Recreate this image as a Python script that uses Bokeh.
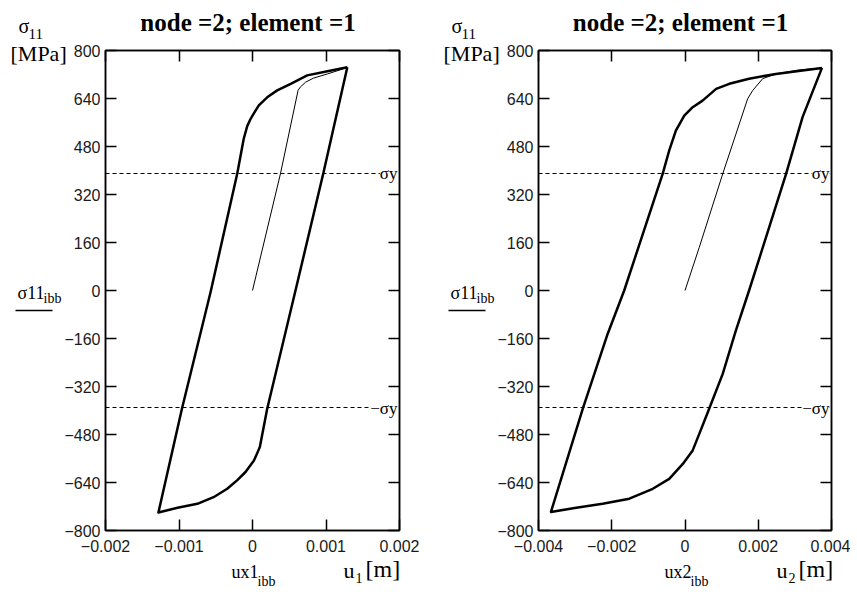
from bokeh.plotting import figure
from bokeh.layouts import row
from bokeh.models import Label, Span, LinearAxis, FixedTicker
from bokeh.core.properties import value
from bokeh.embed import file_html
from bokeh.resources import INLINE

# ---------------- data ----------------
title_text = "node =2; element =1"
sigma_y = 390

y_ticks = [-800, -640, -480, -320, -160, 0, 160, 320, 480, 640, 800]
y_tick_labels = ["\u2212800", "\u2212640", "\u2212480", "\u2212320", "\u2212160", "0",
                 "160", "320", "480", "640", "800"]

x1_ticks = [-0.002, -0.001, 0.0, 0.001, 0.002]
x1_tick_labels = ["\u22120.002", "\u22120.001", "0", "0.001", "0.002"]
x2_ticks = [-0.004, -0.002, 0.0, 0.002, 0.004]
x2_tick_labels = ["\u22120.004", "\u22120.002", "0", "0.002", "0.004"]

# node 2, element 1 : first loading (thin)
ux1_init = [0.0, 0.00038, 0.00062, 0.00065, 0.00072, 0.00083, 0.00102, 0.0012, 0.00129]
s1_init = [0, 389, 667, 678, 694, 708, 722, 736, 744]
# hysteresis loop (thick)
ux1_loop = [0.00129, 0.000962, 0.000585, 0.0002, 0.0001, 0.00002, -0.000095, -0.00021,
            -0.000344, -0.00053, -0.00075, -0.00102, -0.00128, -0.00096, -0.00057,
            -0.000208, -0.00012, -0.000072, -0.00003, 0.0, 0.000086, 0.0002, 0.000336,
            0.00052, 0.000744, 0.00102, 0.00129]
s1_loop = [744, 389, 0, -394, -522, -567, -605, -633, -661, -689, -711, -724, -740,
           -394, -5, 389, 505, 548, 570, 583, 617, 644, 667, 689, 717, 731, 744]

ux2_init = [0.0, 0.00039, 0.00103, 0.00171, 0.00185, 0.00212, 0.00248, 0.0031, 0.00374]
s2_init = [0, 144, 389, 639, 667, 706, 722, 735, 742]
ux2_loop = [0.00374, 0.00321, 0.00276, 0.0023, 0.00175, 0.00139, 0.00103, 0.00066,
            0.00039, 0.00021, -0.00006, -0.00043, -0.00088, -0.00152, -0.00225,
            -0.00297, -0.00366, -0.00279, -0.00211, -0.00166, -0.00061, -0.00043,
            -0.00025, -0.00002, 0.00021, 0.00048, 0.00085, 0.00121, 0.00175, 0.00248,
            0.00321, 0.00374]
s2_loop = [742, 578, 389, 211, 0, -133, -278, -394, -478, -533, -578, -628, -661, -694,
           -711, -724, -738, -394, -144, 0, 389, 467, 533, 583, 611, 633, 672, 689,
           706, 722, 733, 742]

SERIF = "Liberation Serif"
SANS = "Liberation Sans"


def make_panel(xlim, xticks, xlabels, xinit, yinit, xloop, yloop, idx,
               bl, fw, br):
    FH = 480
    BT = 50
    BB = 60
    ylim = (y_ticks[0], y_ticks[-1])
    p = figure(frame_width=fw, frame_height=FH, x_range=xlim, y_range=ylim,
               output_backend="svg", toolbar_location=None,
               min_border_left=bl, min_border_right=br,
               min_border_top=BT, min_border_bottom=BB,
               background_fill_color="white", border_fill_color="white")
    p.xgrid.visible = False
    p.ygrid.visible = False
    p.outline_line_color = "black"
    p.outline_line_width = 1.5

    ylab = dict(zip(y_ticks, y_tick_labels))
    xlab = dict(zip(xticks, xlabels))

    def style(ax, labels):
        ax.axis_line_color = "black"
        ax.axis_line_width = 1.5
        ax.major_tick_in = 11
        ax.major_tick_out = 0
        ax.major_tick_line_width = 1.5
        ax.minor_tick_in = 0
        ax.minor_tick_out = 0
        ax.major_label_overrides = labels
        ax.major_label_text_font = SANS
        ax.major_label_text_font_size = "16px"
        ax.major_label_text_color = "#1a1a1a"

    yax = p.yaxis[0]
    yax.ticker = FixedTicker(ticks=y_ticks)
    style(yax, ylab)
    yax.major_label_standoff = 5
    xax = p.xaxis[0]
    xax.ticker = FixedTicker(ticks=xticks)
    style(xax, xlab)
    xax.major_label_standoff = 9

    # mirror axes (ticks only, empty labels)
    rax = LinearAxis(ticker=FixedTicker(ticks=y_ticks))
    style(rax, {t: "" for t in y_ticks})
    p.add_layout(rax, "right")
    tax = LinearAxis(ticker=FixedTicker(ticks=xticks))
    style(tax, {t: "" for t in xticks})
    p.add_layout(tax, "above")

    # sigma_y markers
    for v in (sigma_y, -sigma_y):
        p.add_layout(Span(location=v, dimension="width", line_color="black",
                          line_width=1, line_dash="4 3"))

    p.line(xinit, yinit, line_color="black", line_width=1)
    p.line(xloop, yloop, line_color="black", line_width=2.5, line_join="round")

    # helpers: pixel offsets relative to frame (left edge / top edge) -> data
    x0, x1 = xlim

    def dx(px):
        return x0 + px / fw * (x1 - x0)

    def dy(py):
        return ylim[1] - py / FH * (ylim[1] - ylim[0])

    def lab(px, py, text, size, style="normal", align="left"):
        p.text(x=[dx(px)], y=[dy(py)], text=[text], text_font=value(SERIF),
               text_font_size=size, text_font_style=style, text_align=align,
               text_baseline="middle", text_color="black", level="overlay")

    # sigma_y labels
    p.add_layout(Label(x=x1, y=sigma_y, x_offset=-2, y_offset=0, text="\u03c3y",
                       text_font=SERIF, text_font_size="17px", text_align="right",
                       text_baseline="middle", text_color="black",
                       background_fill_color="white"))
    p.add_layout(Label(x=x1, y=-sigma_y, x_offset=-2, y_offset=-1, text="\u2212\u03c3y",
                       text_font=SERIF, text_font_size="17px", text_align="right",
                       text_baseline="middle", text_color="black",
                       background_fill_color="white"))

    # title
    lab(fw / 2 - 4.5, -28, title_text, "25px", style="bold", align="center")
    # top-left unit label
    lab(-87, -25, "\u03c3", "20px")
    lab(-77, -17, "11", "15px")
    lab(-95, 2.5, "[MPa]", "22px")
    # y label
    lab(-88, 242, "\u03c3" + "11", "18px")
    lab(-62, 248, "ibb", "14px")
    p.segment(x0=[dx(-90)], y0=[dy(260)], x1=[dx(-53)], y1=[dy(260)],
              line_color="black", line_width=1.5, level="overlay")
    # x labels
    lab(126, 521, "ux" + str(idx), "18px")
    lab(152, 531, "ibb", "14px")
    lab(238, 519.5, "u", "22px")
    lab(250, 527, str(idx), "14px")
    lab(260, 518, "[m]", "24px")
    return p


p1 = make_panel((x1_ticks[0], x1_ticks[-1]), x1_ticks, x1_tick_labels,
                ux1_init, s1_init, ux1_loop, s1_loop, 1, 105, 294, 31)
p2 = make_panel((x2_ticks[0], x2_ticks[-1]), x2_ticks, x2_tick_labels,
                ux2_init, s2_init, ux2_loop, s2_loop, 2, 108, 293, 19)

layout = row(p1, p2)
open("out.html", "w").write(file_html(layout, INLINE))
